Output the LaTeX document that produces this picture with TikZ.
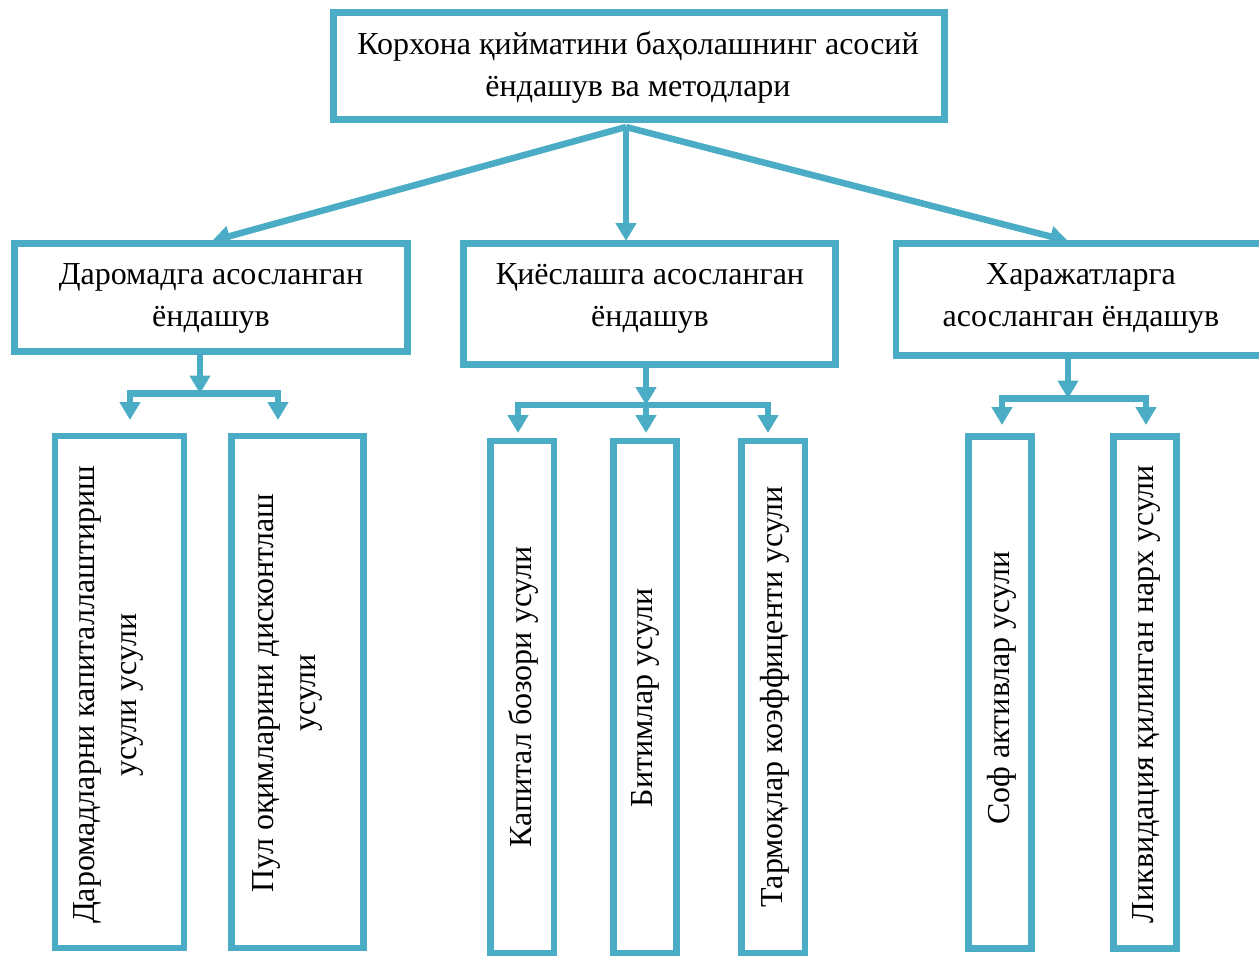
\documentclass[tikz,border=0pt]{standalone}
\usepackage{fontspec}
\setmainfont{Liberation Serif}
\usetikzlibrary{arrows.meta,calc}
\definecolor{frame}{RGB}{75,172,198}
\begin{document}
\begin{tikzpicture}[x=1pt,y=-1pt,
  box/.style={draw=frame,line width=6.5pt,inner sep=0pt},
  txt/.style={font=\fontsize{32}{42}\selectfont,align=center,inner sep=0pt},
  vtxt/.style={txt,rotate=90},
  conn/.style={draw=frame,line width=6.5pt,-{Triangle[width=20pt,length=18pt]}},
  bar/.style={draw=frame,line width=6.5pt}]
\useasboundingbox (0,0) rectangle (1259,958);
\clip (0,0) rectangle (1259,958);
% top box
\node[box,minimum width=611pt,minimum height=107pt] (top) at (639,66) {};
\node[txt] (toptxt) at (638,67) {Корхона қийматини баҳолашнинг асосий\\ёндашув ва методлари};
% level 2
\node[box,minimum width=393pt,minimum height=108pt] (lbox) at (211,297.5) {};
\node[txt] (ltxt) at (211,298) {Даромадга асосланган\\ёндашув};
\node[box,minimum width=372pt,minimum height=121pt] (mbox) at (649.5,304) {};
\node[txt] (mtxt) at (650,298) {Қиёслашга асосланган\\ёндашув};
\node[box,minimum width=394pt,minimum height=112pt] (rbox) at (1093,299.5) {};
\node[txt] (rtxt) at (1081,298) {Харажатларга\\асосланган ёндашув};
% level 3
\node[box,minimum width=129pt,minimum height=512pt] (A) at (119.5,692) {};
\node[vtxt] (Atxt) at (108,695) {Даромадларни капиталлаштириш\\усули усули};
\node[box,minimum width=132pt,minimum height=512pt] (B) at (297.5,692) {};
\node[vtxt] (Btxt) at (287,693) {Пул оқимларини дисконтлаш\\усули};
\node[box,minimum width=63.5pt,minimum height=512pt] (C) at (522,697) {};
\node[vtxt] (Ctxt) at (523,697) {Капитал бозори усули};
\node[box,minimum width=63pt,minimum height=512pt] (D) at (645,697) {};
\node[vtxt] (Dtxt) at (645,698) {Битимлар усули};
\node[box,minimum width=63.5pt,minimum height=512pt] (E) at (773,697) {};
\node[vtxt] (Etxt) at (775,697) {Тармоқлар коэффиценти усули};
\node[box,minimum width=63pt,minimum height=512pt] (F) at (1000,692.5) {};
\node[vtxt] (Ftxt) at (1002,688) {Соф активлар усули};
\node[box,minimum width=63pt,minimum height=512pt] (G) at (1145,692.5) {};
\node[vtxt] (Gtxt) at (1146,694) {Ликвидация қилинган нарх усули};
% connectors from top
\coordinate (hub) at (626,127);
\coordinate (tL) at (212,241);
\coordinate (tM) at (626,241);
\coordinate (tR) at (1068,241);
\draw[conn] (hub) -- (tL);
\draw[conn] (hub) -- (tM);
\draw[conn] (hub) -- (tR);
% left group
\coordinate (bL) at (200,393.5);
\coordinate (tA) at (130,420);
\coordinate (tB) at (278,420);
\draw[conn] (bL) -| (tA);
\draw[conn] (bL) -| (tB);
\draw[conn] (lbox.south -| bL) -- (bL);
% middle group
\coordinate (bM) at (646,405);
\coordinate (tC) at (518,433);
\coordinate (tD) at (646,433);
\coordinate (tE) at (768,433);
\draw[conn] (bM) -| (tC);
\draw[conn] (bM) -- (tD);
\draw[conn] (bM) -| (tE);
\draw[conn] (mbox.south -| bM) -- (bM);
% right group
\coordinate (bR) at (1068,398.5);
\coordinate (tF) at (1002,425);
\coordinate (tG) at (1146,425);
\draw[conn] (bR) -| (tF);
\draw[conn] (bR) -| (tG);
\draw[conn] (rbox.south -| bR) -- (bR);
\end{tikzpicture}
\end{document}
